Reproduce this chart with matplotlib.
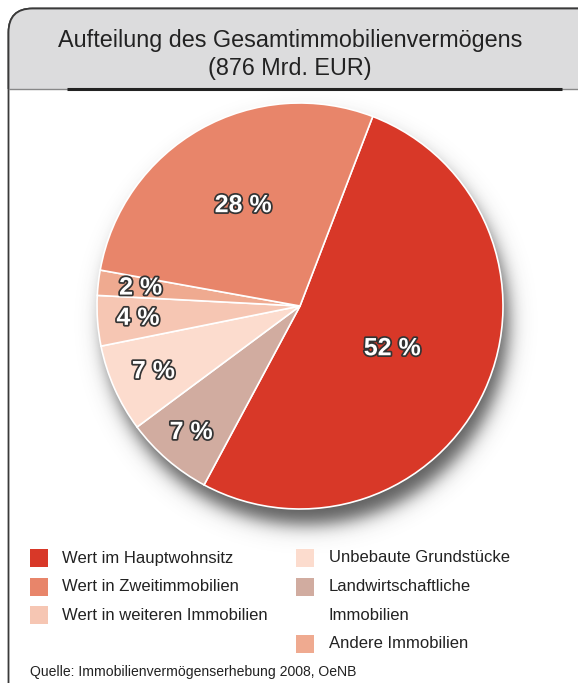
import numpy as np
import matplotlib.pyplot as plt
import matplotlib.patheffects as pe
from matplotlib.patches import FancyBboxPatch, Rectangle

plt.rcParams['font.family'] = ['Liberation Sans', 'DejaVu Sans']

# Data (clockwise from the top)
slice_names = ['Wert im Hauptwohnsitz', 'Landwirtschaftliche Immobilien', 'Unbebaute Grundstücke',
               'Wert in weiteren Immobilien', 'Andere Immobilien', 'Wert in Zweitimmobilien']
slice_values = [52, 7, 7, 4, 2, 28]
slice_colors = ['#D83828', '#D1ACA0', '#FCDCCE', '#F6C6B3', '#EFAA90', '#E8856A']
label_dist = [0.5, 0.82, 0.79, 0.8, 0.79, 0.57]

legend_left = ['Wert im Hauptwohnsitz', 'Wert in Zweitimmobilien', 'Wert in weiteren Immobilien']
legend_right = ['Unbebaute Grundstücke', 'Landwirtschaftliche\nImmobilien', 'Andere Immobilien']
color_of = dict(zip(slice_names, slice_colors))
color_of['Landwirtschaftliche\nImmobilien'] = color_of['Landwirtschaftliche Immobilien']

W, H = 578, 683
fig = plt.figure(figsize=(W / 100, H / 100), dpi=100)
ax = fig.add_axes([0, 0, 1, 1])
ax.set_axis_off()

# outer box with rounded top corners
box = FancyBboxPatch((8.5, -60), 600, H - 8.5 + 60, boxstyle='round,pad=0,rounding_size=24',
                     fc='white', ec='#3a3a3a', lw=1.3, zorder=1)
ax.add_patch(box)
head = FancyBboxPatch((8.5, -60), 600, H - 8.5 + 60, boxstyle='round,pad=0,rounding_size=24',
                      fc='#DCDCDD', ec='#3a3a3a', lw=1.3, zorder=2)
ax.add_patch(head)
head.set_clip_path(Rectangle((0, H - 89), W, 89, transform=ax.transData))
ax.plot([8.5, W], [H - 89, H - 89], color='#888888', lw=1.0, zorder=3)
ax.plot([67, 562], [H - 89, H - 89], color='#222222', lw=2.2, zorder=3, solid_capstyle='butt')

ax.text(290, H - 40, 'Aufteilung des Gesamtimmobilienvermögens', ha='center', va='center',
        fontsize=16.8, color='#222222', zorder=4)
ax.text(290, H - 68, '(876 Mrd. EUR)', ha='center', va='center', fontsize=16.8, color='#222222', zorder=4)

# pie and its shadow
cx, cy, R = 300, H - 306, 203
gx, gy = np.meshgrid(np.linspace(60, 560, 500), np.linspace(H - 620, H - 80, 540))
d = np.hypot(gx - (cx + 6), gy - (cy - 16))
alpha = 0.8 * 0.5 * (1 - np.tanh((d - R) / 11))
shadow = np.zeros(gx.shape + (4,))
shadow[..., :3] = 0.2
shadow[..., 3] = alpha
ax.imshow(shadow, extent=(60, 560, H - 620, H - 80), origin='lower', zorder=4, interpolation='bilinear')

wedges, _ = ax.pie(slice_values, colors=slice_colors, startangle=69, counterclock=False,
                   center=(cx, cy), radius=R, frame=True,
                   wedgeprops=dict(edgecolor='white', linewidth=1.2))
for w in wedges:
    w.set_zorder(5)

for w, v, f in zip(wedges, slice_values, label_dist):
    ang = np.deg2rad((w.theta1 + w.theta2) / 2)
    ax.text(cx + f * R * np.cos(ang), cy + f * R * np.sin(ang), f'{v} %', ha='center', va='center',
            fontsize=18, fontweight='bold', color='white', zorder=6,
            path_effects=[pe.withStroke(linewidth=2.5, foreground='#333333')])

# legend
row_h = 28.5
for i, name in enumerate(legend_left):
    y = H - 558 - row_h * i
    ax.add_patch(Rectangle((30, y - 9), 18, 18, fc=color_of[name], ec='none', zorder=4))
    ax.text(62, y, name, ha='left', va='center', fontsize=12, color='#222222', zorder=4)
row = 0
for name in legend_right:
    y = H - 558 - row_h * row
    ax.add_patch(Rectangle((296, y - 9), 18, 18, fc=color_of[name], ec='none', zorder=4))
    for line in name.split('\n'):
        ax.text(329, H - 558 - row_h * row, line, ha='left', va='center', fontsize=12,
                color='#222222', zorder=4)
        row += 1

ax.text(30, H - 672, 'Quelle: Immobilienvermögenserhebung 2008, OeNB', ha='left', va='center',
        fontsize=10.1, color='#222222', zorder=4)

ax.set_xlim(0, W)
ax.set_ylim(0, H)
ax.set_aspect('auto')
fig.savefig('out.png', dpi=100)
